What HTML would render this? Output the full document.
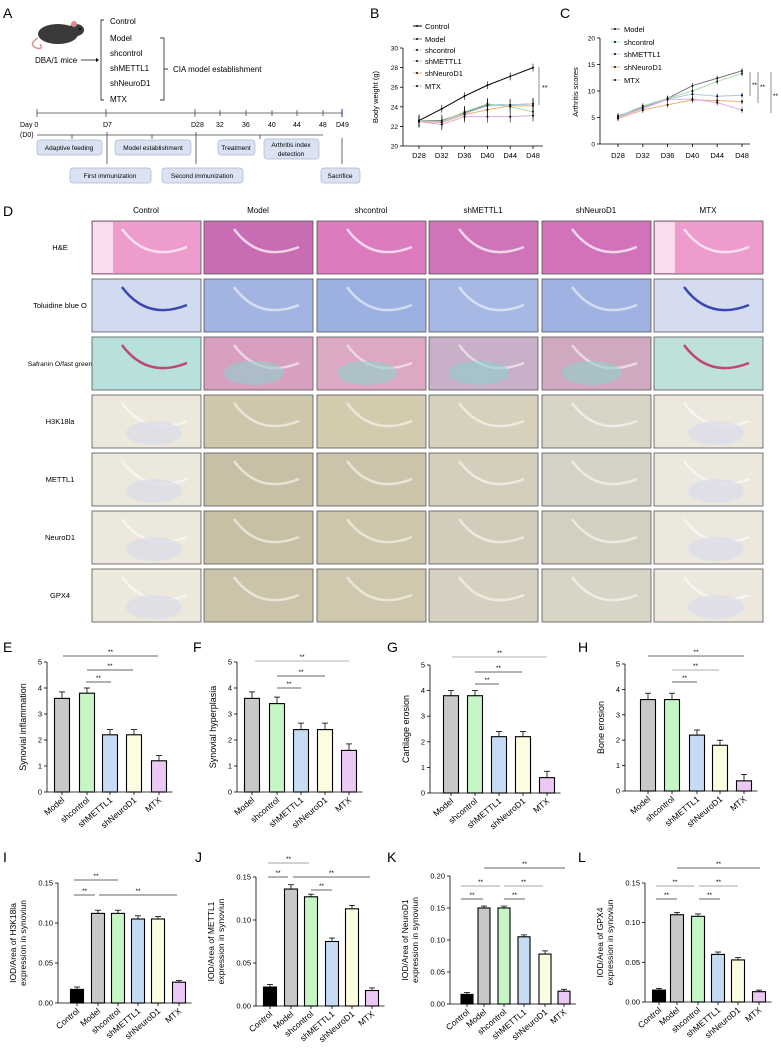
<!DOCTYPE html>
<html><head><meta charset="utf-8">
<style>
html,body{margin:0;padding:0;background:#fff;}
svg{display:block;font-family:"Liberation Sans",Arial,sans-serif;}
</style></head><body>
<svg id="s" width="781" height="1052" viewBox="0 0 781 1052" xmlns="http://www.w3.org/2000/svg">
<rect width="781" height="1052" fill="#fff"/>
<text x="3" y="18" font-size="14">A</text>
<g>
<ellipse cx="58" cy="34" rx="20" ry="10" fill="#3a3a3a"/>
<ellipse cx="76" cy="30" rx="8" ry="6" fill="#3a3a3a"/>
<ellipse cx="74" cy="24" rx="3" ry="3" fill="#d89090"/>
<path d="M38 38 Q28 44 36 48 Q44 50 40 44" stroke="#d89090" fill="none" stroke-width="1.5"/>
<circle cx="80" cy="29" r="1" fill="#000"/>
</g>
<text x="35" y="63" font-size="8">DBA/1 mice</text>
<line x1="81" y1="60" x2="96" y2="60" stroke="#000" stroke-width="0.7"/>
<path d="M96 58 L99 60 L96 62" fill="#000"/>
<path d="M104 20 L101 20 L101 100 L104 100" stroke="#000" fill="none" stroke-width="0.7"/>
<g font-size="8">
<text x="110" y="24">Control</text><text x="110" y="41">Model</text><text x="110" y="56">shcontrol</text>
<text x="110" y="71">shMETTL1</text><text x="110" y="86">shNeuroD1</text><text x="110" y="102">MTX</text>
<text x="173" y="72">CIA model establishment</text>
</g>
<path d="M160 38 L164 38 L164 100 L160 100 M164 69 L168 69" stroke="#000" fill="none" stroke-width="0.7"/>
<g stroke="#444" stroke-width="0.8">
<line x1="37" y1="113" x2="342" y2="113"/>
<line x1="37" y1="109" x2="37" y2="117"/><line x1="106" y1="109" x2="106" y2="117"/><line x1="195" y1="109" x2="195" y2="117"/>
<line x1="220" y1="110" x2="220" y2="116"/><line x1="246" y1="110" x2="246" y2="116"/><line x1="272" y1="110" x2="272" y2="116"/>
<line x1="297" y1="110" x2="297" y2="116"/><line x1="323" y1="110" x2="323" y2="116"/>
<line x1="342" y1="109" x2="342" y2="117" stroke="#3050a0" stroke-width="1.2"/>
<line x1="37" y1="135" x2="323" y2="135"/>
<line x1="72" y1="135" x2="72" y2="139"/><line x1="152" y1="135" x2="152" y2="139"/><line x1="260" y1="135" x2="260" y2="139"/>
<line x1="107" y1="132" x2="107" y2="164"/><line x1="196" y1="132" x2="196" y2="164"/><line x1="342" y1="138" x2="342" y2="164"/>
</g>
<g font-size="7">
<text x="20" y="127">Day 0</text><text x="20" y="137">(D0)</text><text x="103" y="127">D7</text><text x="191" y="127">D28</text>
<text x="216" y="127">32</text><text x="242" y="127">36</text><text x="268" y="127">40</text><text x="293" y="127">44</text><text x="319" y="127">48</text><text x="336" y="127">D49</text>
</g>
<g fill="#dbe3f2" stroke="#a8b6d0" stroke-width="0.7">
<rect x="37" y="140" width="65" height="15" rx="3"/><rect x="115" y="140" width="76" height="15" rx="3"/>
<rect x="218" y="140" width="37" height="15" rx="3"/><rect x="264" y="139" width="55" height="20" rx="3"/>
<rect x="70" y="168" width="81" height="15" rx="3"/><rect x="162" y="168" width="81" height="15" rx="3"/>
<rect x="321" y="168" width="39" height="15" rx="3"/>
</g>
<g font-size="6.5" text-anchor="middle">
<text x="69" y="150">Adaptive feeding</text><text x="153" y="150">Model establishment</text><text x="236" y="150">Treatment</text>
<text x="291" y="147">Arthritis index</text><text x="291" y="156">detection</text>
<text x="110" y="178">First immunization</text><text x="202" y="178">Second immunization</text><text x="340" y="178">Sacrifice</text>
</g>
<text x="370" y="18" font-size="14">B</text>
<text x="560" y="18" font-size="14">C</text>
<text x="3" y="216" font-size="14">D</text>
<g id="dyn"></g>
</svg>
<script>
const NS="http://www.w3.org/2000/svg";const dyn=document.getElementById('dyn');
function el(t,a,txt){const e=document.createElementNS(NS,t);for(const k in a)e.setAttribute(k,a[k]);if(txt!==undefined)e.textContent=txt;dyn.appendChild(e);return e;}
function line(x1,y1,x2,y2,c,w){el('line',{x1,y1,x2,y2,stroke:c||'#000','stroke-width':w||0.8});}
function txt(x,y,s,fs,anc,extra){const a={x,y,'font-size':fs||7,'text-anchor':anc||'start'};Object.assign(a,extra||{});return el('text',a,s);}

(function(){const ax=403,y0=146,sc=9.8,vmin=20;const X=i=>419+i*22.8;const Y=v=>y0-(v-vmin)*sc;
line(ax,48,ax,146);line(ax,146,543,146);
for(let v=20;v<=30;v+=2){line(ax-3,Y(v),ax,Y(v));txt(ax-5,Y(v)+2.5,String(v),6.5,'end');}
['D28','D32','D36','D40','D44','D48'].forEach((l,i)=>{line(X(i),146,X(i),149);txt(X(i),158,l,7.5,'middle');});
txt(378,97,'Body weight (g)',7.5,'middle',{transform:'rotate(-90 378 97)'});
const S=[['Control','#000',[22.6,23.8,25.1,26.2,27.1,28.0]],['Model','#777',[22.6,22.6,23.4,24.2,24.2,24.3]],['shcontrol','#a8e0a8',[22.6,22.5,23.5,24.3,24.0,23.5]],['shMETTL1','#a8c8e8',[22.5,22.5,23.3,24.1,24.2,24.3]],['shNeuroD1','#f0b070',[22.5,22.4,23.2,23.7,24.1,24.1]],['MTX','#e0a8e8',[22.5,22.2,23.0,23.0,23.0,23.1]]];
S.forEach((s,k)=>{el('polyline',{points:s[2].map((v,i)=>X(i)+','+Y(v)).join(' '),fill:'none',stroke:s[1],'stroke-width':1});
s[2].forEach((v,i)=>{const e=k==0?0.4:0.6;line(X(i),Y(v-e),X(i),Y(v+e),'#000',0.6);el('circle',{cx:X(i),cy:Y(v),r:1,fill:'#000'});});
const ly=[28,41,52,63,75,88][k];line(413,ly-2,422,ly-2,s[1],1);el('circle',{cx:417,cy:ly-2,r:1,fill:'#000'});txt(425,ly+1,s[0],7.5);});
line(539,67,539,105,'#777',0.8);txt(542,90,'**',7);})();

(function(){const ax=600,y0=144,sc=5.3;const X=i=>618+i*24.8;const Y=v=>y0-v*sc;
line(ax,38,ax,144);line(ax,144,750,144);
for(let v=0;v<=20;v+=5){line(ax-3,Y(v),ax,Y(v));txt(ax-5,Y(v)+2.5,String(v),6.5,'end');}
['D28','D32','D36','D40','D44','D48'].forEach((l,i)=>{line(X(i),144,X(i),147);txt(X(i),158,l,7.5,'middle');});
txt(578,92,'Arthritis scores',7.5,'middle',{transform:'rotate(-90 578 92)'});
const S=[['Model','#777',[5.3,6.9,8.6,11,12.4,13.8]],['shcontrol','#a8e0a8',[5.2,7.2,8.6,10,11.8,13.3]],['shMETTL1','#a8c8e8',[5.2,6.8,8.5,9.4,9.0,9.2]],['shNeuroD1','#f0b070',[4.8,6.4,7.4,8.3,8.2,8.0]],['MTX','#e0a8e8',[5.0,6.7,8.4,8.5,7.8,6.4]]];
S.forEach((s,k)=>{el('polyline',{points:s[2].map((v,i)=>X(i)+','+Y(v)).join(' '),fill:'none',stroke:s[1],'stroke-width':1});
s[2].forEach((v,i)=>{line(X(i),Y(v-0.5),X(i),Y(v+0.5),'#000',0.6);el('circle',{cx:X(i),cy:Y(v),r:1,fill:'#000'});});
const ly=[31,44,56,69,82][k];line(611,ly-2,620,ly-2,s[1],1);el('circle',{cx:615,cy:ly-2,r:1,fill:'#000'});txt(624,ly+1,s[0],7.5);});
line(750,72,750,96,'#777');txt(752,87,'**',6.5);line(758,72,758,103,'#777');txt(760,89,'**',6.5);line(771,72,771,113,'#777');txt(773,98,'**',6.5);})();

(function(){const cols=['Control','Model','shcontrol','shMETTL1','shNeuroD1','MTX'];const cx=[92,204,317,429,542,654];
const rows=['H&E','Toluidine blue O','Safranin O/fast green','H3K18la','METTL1','NeuroD1','GPX4'];const ry=[221,279,337,395,453,511,569];
cols.forEach((c,i)=>txt(cx[i]+54,213,c,8,'middle'));
const fills=[['#ee9ccc','#c86cb4','#dc7cbe','#cf74b8','#d272ba','#ee9ccc'],
['#d2daf0','#a4b4e2','#9cb0e2','#a8b8e4','#a0b2e2','#d6dcf0'],
['#b8e0dc','#d8a0c0','#dca8c4','#c8b0c8','#d0a8c0','#c0e0dc'],
['#ece8dc','#cfc7ab','#d4cbae','#d6d0bc','#d8d4c6','#ece8de'],
['#ece8dc','#c8c0a6','#ccc4aa','#d4cfbc','#d6d2c6','#ece8de'],
['#ece8dc','#c8c0a4','#cec6aa','#d2ccba','#d4d0c0','#ece8de'],
['#ece8dc','#ccc4aa','#d0c8ae','#d6d0c0','#d8d4c6','#ece8de']];
rows.forEach((r,j)=>{txt(60,ry[j]+29,r,j==2?6.8:7.5,'middle');
cols.forEach((c,i)=>{const x=cx[i],y=ry[j];el('rect',{x,y,width:109,height:53,fill:fills[j][i],stroke:'#555','stroke-width':0.8});
let a='rgba(255,255,255,0.55)';if(j==1&&(i==0||i==5))a='#3848b0';if(j==2&&(i==0||i==5))a='#c04870';if(j==0)a='rgba(255,255,255,0.7)';
el('path',{d:`M${x+30} ${y+8} Q${x+55} ${y+42} ${x+95} ${y+26}`,fill:'none',stroke:a,'stroke-width':2.5});
if(j>=3&&(i==0||i==5))el('ellipse',{cx:x+62,cy:y+38,rx:28,ry:12,fill:'#dcdde8',opacity:0.8});
if(j==2&&i!=0&&i!=5)el('ellipse',{cx:x+50,cy:y+36,rx:30,ry:12,fill:'#8fd0cc',opacity:0.6});
if(j==0&&(i==0||i==5))el('rect',{x:x+1,y:y+1,width:20,height:51,fill:'#fbeef6',opacity:0.8});
});});})();

const C=['#c8c8c8','#c6f5c6','#c6dcf4','#fcfce0','#ecc8f4'];
function bar(o){const {ax,top,bot,max,step,fmt,bars,w,vals,errs,cols,labels,ylab,ylab2,sig}=o;
const Y=v=>bot-(v/max)*(bot-top);line(ax,top,ax,bot);line(ax,bot,bars[bars.length-1]+w/2+6,bot);
for(let v=0;v<=max+1e-9;v+=step){line(ax-3,Y(v),ax,Y(v));txt(ax-5,Y(v)+2.5,fmt(v),7.5,'end');}
vals.forEach((v,i)=>{const x=bars[i];line(x,Y(v),x,Y(v+errs[i]),'#000',0.8);line(x-3,Y(v+errs[i]),x+3,Y(v+errs[i]),'#000',0.8);
el('rect',{x:x-w/2,y:Y(v),width:w,height:bot-Y(v),fill:cols[i],stroke:'#000','stroke-width':1.1});
line(x,bot,x,bot+3);txt(x+3,bot+9,labels[i],8.5,'end',{transform:`rotate(-40 ${x+3} ${bot+9})`});});
const yc=(top+bot)/2;
if(ylab2){txt(ax-42,yc,ylab,8.5,'middle',{transform:`rotate(-90 ${ax-42} ${yc})`});txt(ax-32,yc,ylab2,8.5,'middle',{transform:`rotate(-90 ${ax-32} ${yc})`});}
else{txt(ax-21,yc,ylab,9,'middle',{transform:`rotate(-90 ${ax-21} ${yc})`});}
sig.forEach(s=>{line(s[0],s[2],s[1],s[2],s[3]||'#333',0.8);txt((s[0]+s[1])/2,s[2]-2,'**',6.5,'middle');});}
const L5=['Model','shcontrol','shMETTL1','shNeuroD1','MTX'];const L6=['Control'].concat(L5);
const f1=v=>String(Math.round(v));const f2=v=>v.toFixed(2);
[['E',3,652],['F',193,652],['G',387,652],['H',578,652],['I',3,862],['J',195,862],['K',387,862],['L',578,862]].forEach(p=>txt(p[1],p[2],p[0],14));
bar({ax:47,top:662,bot:792,max:5,step:1,fmt:f1,bars:[62,87,110,134,159],w:15,vals:[3.6,3.8,2.2,2.2,1.2],errs:[.25,.2,.2,.2,.2],cols:C,labels:L5,ylab:'Synovial inflammation',sig:[[63,158,656],[87,133,670],[86,111,682]]});
bar({ax:237,top:662,bot:792,max:5,step:1,fmt:f1,bars:[252,277,301,325,349],w:15,vals:[3.6,3.4,2.4,2.4,1.6],errs:[.25,.25,.25,.25,.25],cols:C,labels:L5,ylab:'Synovial hyperplasia',sig:[[255,349,661,'#999'],[277,325,676],[277,301,688]]});
bar({ax:430,top:665,bot:793,max:5,step:1,fmt:f1,bars:[451,475,499,523,547],w:15,vals:[3.8,3.8,2.2,2.2,0.6],errs:[.2,.2,.2,.2,.25],cols:C,labels:L5,ylab:'Cartilage erosion',sig:[[452,547,657,'#999'],[475,522,672],[475,499,684]]});
bar({ax:625,top:664,bot:791,max:5,step:1,fmt:f1,bars:[648,672,697,720,744],w:15,vals:[3.6,3.6,2.2,1.8,0.4],errs:[.25,.25,.2,.2,.25],cols:C,labels:L5,ylab:'Bone erosion',sig:[[648,744,656],[672,719,670,'#999'],[672,697,682]]});
const C6=['#000'].concat(C);
bar({ax:58,top:883,bot:1003,max:0.15,step:0.05,fmt:f2,bars:[77,98,118,138,158,179],w:13,vals:[.017,.112,.112,.105,.105,.026],errs:[.003,.004,.004,.004,.003,.002],cols:C6,labels:L6,ylab:'IOD/Area of H3K18la',ylab2:'expression in synoviun',sig:[[74,118,880],[74,95,895],[99,177,895]]});
bar({ax:256,top:877,bot:1006,max:0.15,step:0.05,fmt:f2,bars:[270,291,311,332,352,372],w:13,vals:[.022,.136,.127,.075,.113,.018],errs:[.003,.005,.003,.004,.004,.003],cols:C6,labels:L6,ylab:'IOD/Area of METTL1',ylab2:'expression in synoviun',sig:[[268,309,863,'#888'],[268,288,877],[293,370,877],[311,332,890]]});
bar({ax:450,top:876,bot:1004,max:0.20,step:0.05,fmt:f2,bars:[467,484,504,524,545,564],w:12,vals:[.015,.150,.150,.105,.078,.020],errs:[.003,.003,.003,.003,.005,.003],cols:C6,labels:L6,ylab:'IOD/Area of NeuroD1',ylab2:'expression in synoviun',sig:[[484,565,868],[461,500,886,'#888'],[504,543,886,'#888'],[461,483,899],[504,525,899]]});
bar({ax:645,top:883,bot:1002,max:0.15,step:0.05,fmt:f2,bars:[659,677,698,718,738,759],w:13,vals:[.015,.110,.108,.060,.053,.013],errs:[.002,.003,.003,.003,.003,.002],cols:C6,labels:L6,ylab:'IOD/Area of GPX4',ylab2:'expression in synoviun',sig:[[677,760,868],[656,694,886,'#888'],[699,738,886,'#888'],[656,677,899],[699,720,899]]});
</script>
</body></html>
